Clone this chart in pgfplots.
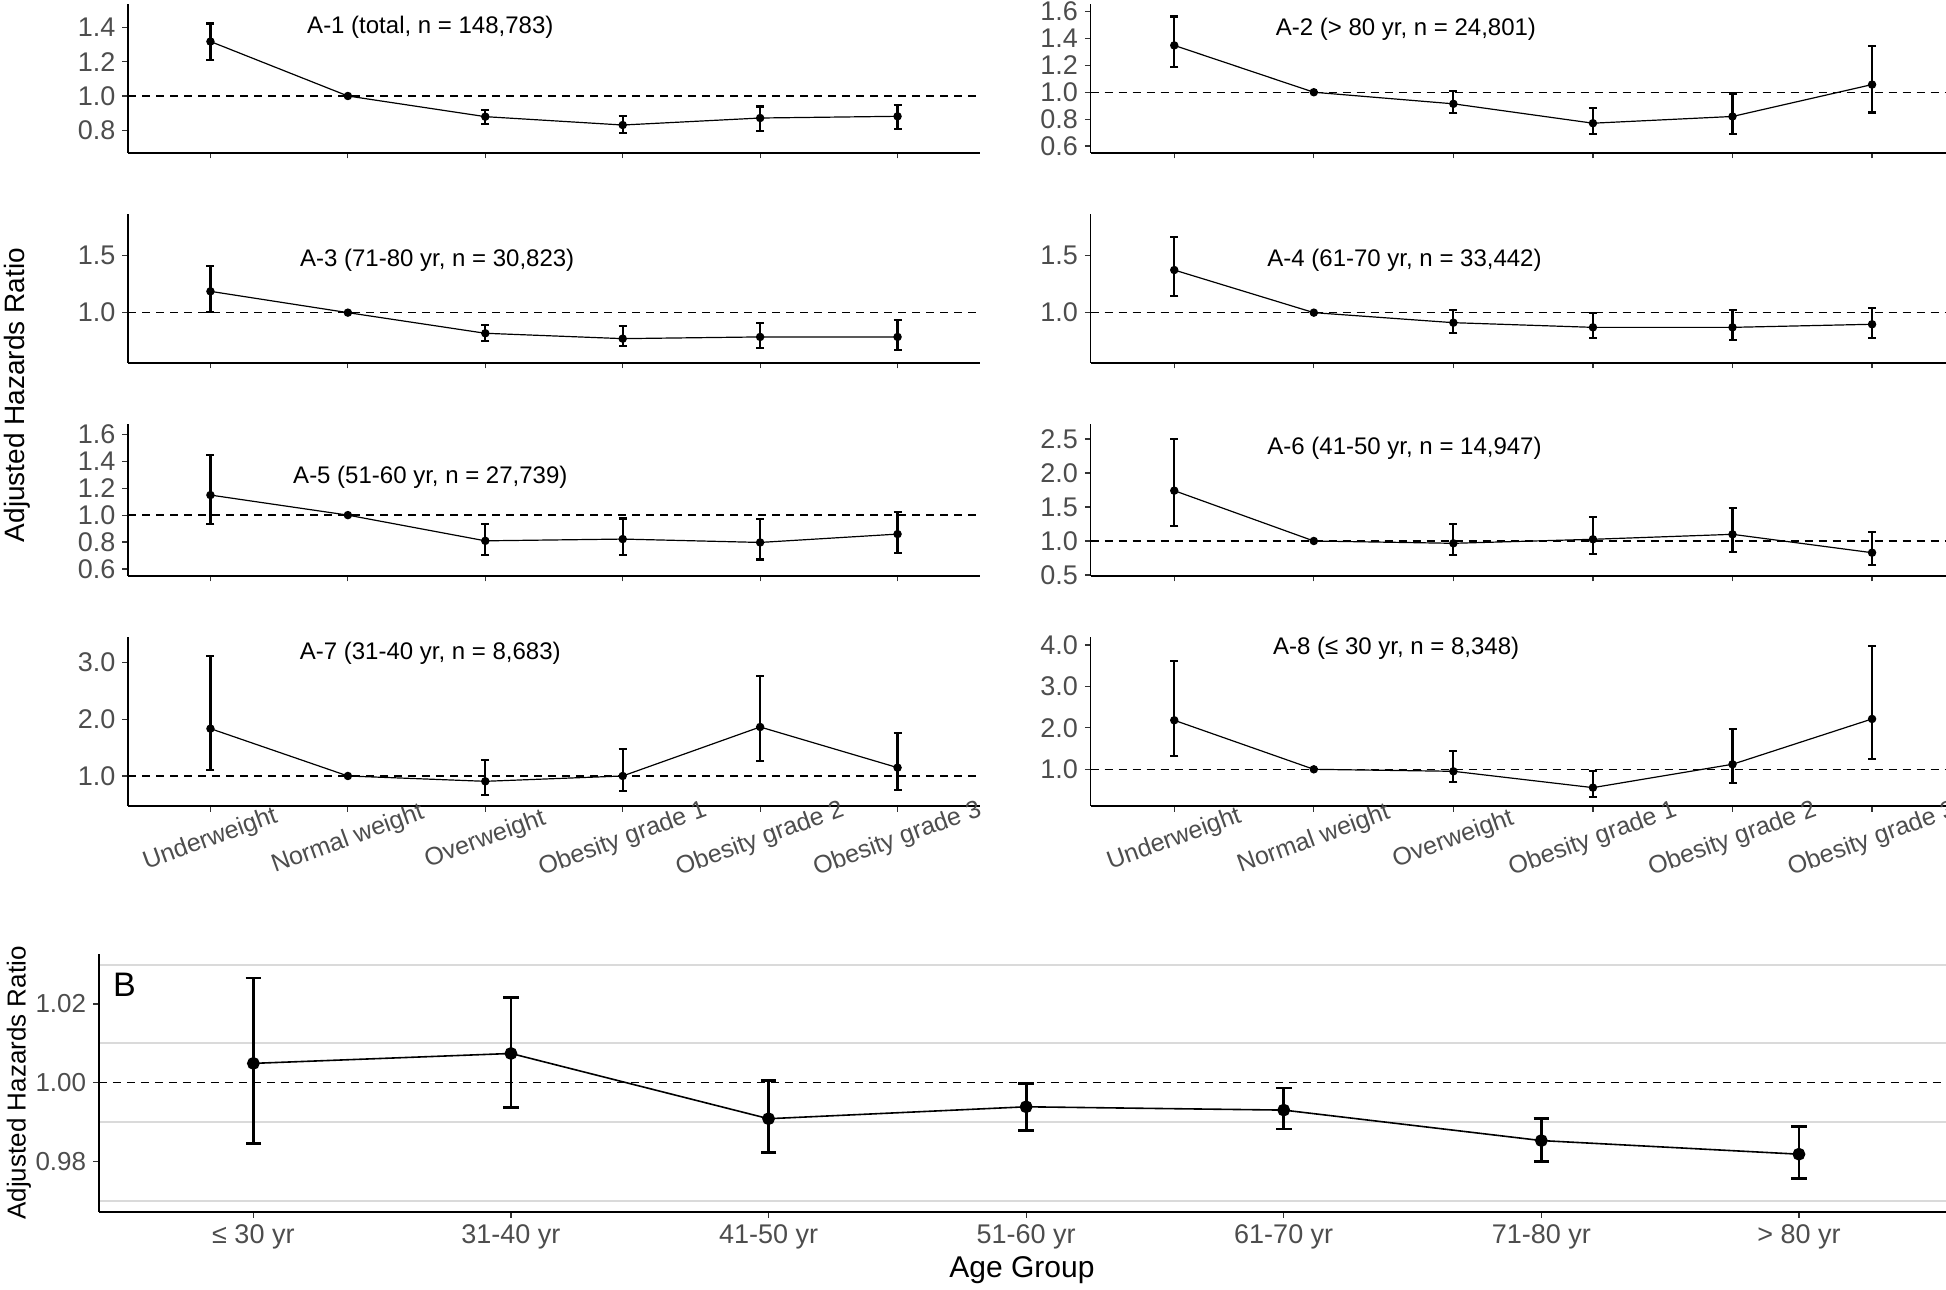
\documentclass[border=0pt]{standalone}
\usepackage{fontspec}
\setmainfont{Liberation Sans}
\usepackage{pgfplots}
\pgfplotsset{compat=1.18}
\usepackage{pgfplotstable}
\definecolor{tickgrey}{HTML}{4D4D4D}
\definecolor{gridgrey}{HTML}{DADADA}

\pgfplotstableread{
x y lo hi
0 1.319 1.210 1.425
1 1.000 1.000 1.000
2 0.879 0.838 0.920
3 0.830 0.782 0.881
4 0.871 0.797 0.938
5 0.881 0.809 0.947
}\dAone
\pgfplotstableread{
x y lo hi
0 1.348 1.185 1.563
1 1.000 1.000 1.000
2 0.914 0.847 1.007
3 0.770 0.689 0.884
4 0.820 0.689 0.990
5 1.057 0.849 1.346
}\dAtwo
\pgfplotstableread{
x y lo hi
0 1.187 1.009 1.409
1 1.000 1.000 1.000
2 0.819 0.749 0.892
3 0.772 0.705 0.880
4 0.787 0.690 0.906
5 0.787 0.673 0.936
}\dAthree
\pgfplotstableread{
x y lo hi
0 1.374 1.149 1.667
1 1.000 1.000 1.000
2 0.912 0.819 1.023
3 0.871 0.778 0.994
4 0.871 0.760 1.023
5 0.898 0.778 1.041
}\dAfour
\pgfplotstableread{
x y lo hi
0 1.149 0.936 1.448
1 1.000 1.000 1.000
2 0.809 0.705 0.936
3 0.822 0.705 0.975
4 0.797 0.671 0.973
5 0.859 0.718 1.025
}\dAfive
\pgfplotstableread{
x y lo hi
0 1.740 1.225 2.500
1 1.000 1.000 1.000
2 0.966 0.789 1.255
3 1.025 0.814 1.348
4 1.098 0.838 1.490
5 0.828 0.647 1.132
}\dAsix
\pgfplotstableread{
x y lo hi
0 1.833 1.100 3.106
1 1.000 1.000 1.000
2 0.906 0.672 1.276
3 1.000 0.730 1.475
4 1.862 1.270 2.765
5 1.147 0.754 1.762
}\dAseven
\pgfplotstableread{
x y lo hi
0 2.183 1.330 3.615
1 1.000 1.000 1.000
2 0.952 0.694 1.450
3 0.558 0.340 0.952
4 1.121 0.662 1.965
5 2.215 1.250 3.968
}\dAeight
\pgfplotstableread{
x y lo hi
0 1.00489 0.98458 1.02662
1 1.00741 0.99368 1.02174
2 0.99082 0.98214 1.00059
3 0.99385 0.98787 0.99983
4 0.99301 0.98821 0.99865
5 0.98526 0.98003 0.99082
6 0.98180 0.97557 0.98879
}\dB

\tikzset{ann/.style={font=\fontsize{12}{14}\selectfont, anchor=center}}
\pgfplotsset{
  base/.style={scale only axis, axis lines=left,
    axis line style={-, line width=0.9pt, black},
    tick align=outside, major tick length=2.8pt,
    tick style={line width=0.6pt, black!80},
    ticklabel style={text=tickgrey}, clip=false},
  panelA/.style={base, xmin=-0.6, xtick={0,1,2,3,4,5}, xticklabels={,,,,,},
    yticklabel style={font=\fontsize{13.5}{15}\selectfont}},
  leftcol/.style={panelA, width=426pt, xmax=5.6},
  rightcol/.style={panelA, width=427.75pt, xmax=5.53},
  bottomrow/.style={xticklabels={Underweight,Normal weight,Overweight,Obesity grade 1,Obesity grade 2,Obesity grade 3},
    xticklabel style={font=\fontsize{12.5}{14}\selectfont, yshift=-14pt, rotate=20, anchor=center}},
  hr/.style={black, line width=0.7pt, dash pattern=on 4pt off 3pt, forget plot},
  serA/.style={black, line width=0.6pt, mark=*, mark size=1.8pt, mark options={solid},
    error bars/.cd, y dir=both, y explicit,
    error bar style={line width=1.1pt, solid},
    error mark options={rotate=90, mark size=2pt, line width=1.1pt}},
  serB/.style={black, line width=0.8pt, mark=*, mark size=2.8pt, mark options={solid},
    error bars/.cd, y dir=both, y explicit,
    error bar style={line width=1.4pt, solid},
    error mark options={rotate=90, mark size=3.9pt, line width=1.4pt}},
}

\begin{document}
\begin{tikzpicture}
\useasboundingbox (0,0) rectangle (973pt,644.5pt);

% A-1
\begin{axis}[leftcol, at={(64pt,568.15pt)}, anchor=south west, height=74.1pt,
  ymin=0.668, ymax=1.536, ytick={0.8,1.0,1.2,1.4}, yticklabels={0.8,1.0,1.2,1.4}]
\addplot[hr] coordinates {(-0.6,1) (5.6,1)};
\addplot[serA] table[x=x, y=y, y error plus expr=\thisrow{hi}-\thisrow{y}, y error minus expr=\thisrow{y}-\thisrow{lo}] {\dAone};
\node[ann] at (axis cs:1.6,1.4) {A-1 (total, n = 148,783)};
\end{axis}

% A-2
\begin{axis}[rightcol, at={(545.25pt,568.15pt)}, anchor=south west, height=74.1pt,
  ymin=0.551, ymax=1.652, ytick={0.6,0.8,1.0,1.2,1.4,1.6}, yticklabels={0.6,0.8,1.0,1.2,1.4,1.6}]
\addplot[hr] coordinates {(-0.6,1) (5.53,1)};
\addplot[serA] table[x=x, y=y, y error plus expr=\thisrow{hi}-\thisrow{y}, y error minus expr=\thisrow{y}-\thisrow{lo}] {\dAtwo};
\node[ann] at (axis cs:1.66,1.47) {A-2 (> 80 yr, n = 24,801)};
\end{axis}

% A-3
\begin{axis}[leftcol, at={(64pt,463.15pt)}, anchor=south west, height=74.2pt,
  ymin=0.561, ymax=1.863, ytick={1.0,1.5}, yticklabels={1.0,1.5}]
\addplot[hr] coordinates {(-0.6,1) (5.6,1)};
\addplot[serA] table[x=x, y=y, y error plus expr=\thisrow{hi}-\thisrow{y}, y error minus expr=\thisrow{y}-\thisrow{lo}] {\dAthree};
\node[ann] at (axis cs:1.65,1.46) {A-3 (71-80 yr, n = 30,823)};
\end{axis}

% A-4
\begin{axis}[rightcol, at={(545.25pt,463.15pt)}, anchor=south west, height=74.2pt,
  ymin=0.561, ymax=1.863, ytick={1.0,1.5}, yticklabels={1.0,1.5}]
\addplot[hr] coordinates {(-0.6,1) (5.53,1)};
\addplot[serA] table[x=x, y=y, y error plus expr=\thisrow{hi}-\thisrow{y}, y error minus expr=\thisrow{y}-\thisrow{lo}] {\dAfour};
\node[ann] at (axis cs:1.65,1.46) {A-4 (61-70 yr, n = 33,442)};
\end{axis}

% A-5
\begin{axis}[leftcol, at={(64pt,356.65pt)}, anchor=south west, height=75.85pt,
  ymin=0.55, ymax=1.677, ytick={0.6,0.8,1.0,1.2,1.4,1.6}, yticklabels={0.6,0.8,1.0,1.2,1.4,1.6}]
\addplot[hr] coordinates {(-0.6,1) (5.6,1)};
\addplot[serA] table[x=x, y=y, y error plus expr=\thisrow{hi}-\thisrow{y}, y error minus expr=\thisrow{y}-\thisrow{lo}] {\dAfive};
\node[ann] at (axis cs:1.6,1.28) {A-5 (51-60 yr, n = 27,739)};
\end{axis}

% A-6
\begin{axis}[rightcol, at={(545.25pt,356.65pt)}, anchor=south west, height=75.85pt,
  ymin=0.49, ymax=2.72, ytick={0.5,1.0,1.5,2.0,2.5}, yticklabels={0.5,1.0,1.5,2.0,2.5}]
\addplot[hr] coordinates {(-0.6,1) (5.53,1)};
\addplot[serA] table[x=x, y=y, y error plus expr=\thisrow{hi}-\thisrow{y}, y error minus expr=\thisrow{y}-\thisrow{lo}] {\dAsix};
\node[ann] at (axis cs:1.65,2.36) {A-6 (41-50 yr, n = 14,947)};
\end{axis}

% A-7
\begin{axis}[leftcol, bottomrow, at={(64pt,241.5pt)}, anchor=south west, height=84.35pt,
  ymin=0.472, ymax=3.44, ytick={1.0,2.0,3.0}, yticklabels={1.0,2.0,3.0}]
\addplot[hr] coordinates {(-0.6,1) (5.6,1)};
\addplot[serA] table[x=x, y=y, y error plus expr=\thisrow{hi}-\thisrow{y}, y error minus expr=\thisrow{y}-\thisrow{lo}] {\dAseven};
\node[ann] at (axis cs:1.6,3.16) {A-7 (31-40 yr, n = 8,683)};
\end{axis}

% A-8
\begin{axis}[rightcol, bottomrow, at={(545.25pt,241.5pt)}, anchor=south west, height=84.35pt,
  ymin=0.115, ymax=4.185, ytick={1.0,2.0,3.0,4.0}, yticklabels={1.0,2.0,3.0,4.0}]
\addplot[hr] coordinates {(-0.6,1) (5.53,1)};
\addplot[serA] table[x=x, y=y, y error plus expr=\thisrow{hi}-\thisrow{y}, y error minus expr=\thisrow{y}-\thisrow{lo}] {\dAeight};
\node[ann] at (axis cs:1.59,3.92) {A-8 (≤ 30 yr, n = 8,348)};
\end{axis}

% B
\begin{axis}[base, at={(49.4pt,38.5pt)}, anchor=south west, width=923.6pt, height=129pt,
  xmin=-0.6, xmax=6.571, ymin=0.9671, ymax=1.0327,
  xtick={0,1,2,3,4,5,6},
  xticklabels={≤ 30 yr,31-40 yr,41-50 yr,51-60 yr,61-70 yr,71-80 yr,> 80 yr},
  ytick={0.98,1.00,1.02}, yticklabels={0.98,1.00,1.02},
  minor ytick={0.97,0.99,1.01,1.03}, minor tick length=0pt,
  yminorgrids, minor grid style={gridgrey, line width=1pt},
  xmajorgrids, major grid style={white, line width=1.2pt},
  xticklabel style={font=\fontsize{13.5}{15}\selectfont},
  yticklabel style={font=\fontsize{13}{15}\selectfont}]
\addplot[hr] coordinates {(-0.6,1) (6.571,1)};
\addplot[serB] table[x=x, y=y, y error plus expr=\thisrow{hi}-\thisrow{y}, y error minus expr=\thisrow{y}-\thisrow{lo}] {\dB};
\node[font=\fontsize{17}{19}\selectfont, anchor=center] at (axis cs:-0.5,1.0249) {B};
\end{axis}

\node[rotate=90, font=\fontsize{14}{16}\selectfont] at (8.5pt,447pt) {Adjusted Hazards Ratio};
\node[rotate=90, font=\fontsize{13}{15}\selectfont] at (9.5pt,103pt) {Adjusted Hazards Ratio};
\node[font=\fontsize{15}{17}\selectfont] at (511pt,9.5pt) {Age Group};
\end{tikzpicture}
\end{document}
